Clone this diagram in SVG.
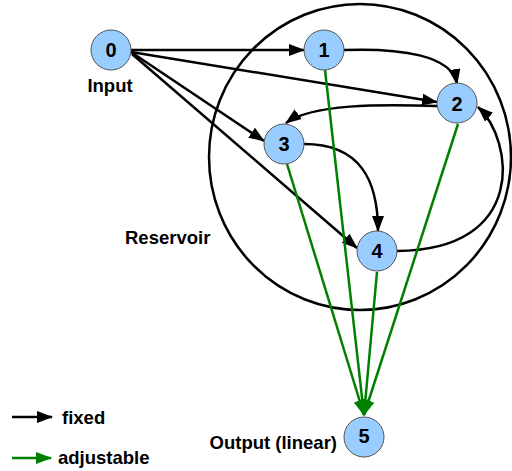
<svg xmlns="http://www.w3.org/2000/svg" width="512" height="471" viewBox="0 0 512 471">
<style>
.node circle{fill:#99ccff;stroke:#555;stroke-width:1}
.node text,.lbl{font-family:"Liberation Sans",Arial,sans-serif;font-weight:bold;fill:#000}
.node text{font-size:20px;text-anchor:middle}
.lbl{font-size:18.5px}
.fixed{fill:none;stroke:#000;stroke-width:2.5;marker-end:url(#ab)}
.adj{fill:none;stroke:#008000;stroke-width:2.5;marker-end:url(#ag)}
</style>
<defs>
<marker id="ab" markerUnits="userSpaceOnUse" markerWidth="17" markerHeight="13" refX="15" refY="6" orient="auto"><path d="M0,0 L16,6 L0,12 z" fill="#000"/></marker>
<marker id="ag" markerUnits="userSpaceOnUse" markerWidth="17" markerHeight="13" refX="15" refY="6" orient="auto"><path d="M0,0 L16,6 L0,12 z" fill="#008000"/></marker>
</defs>
<ellipse id="reservoir" cx="360" cy="157" rx="151" ry="153" fill="none" stroke="#000" stroke-width="2.5"/>
<text class="lbl" x="125" y="244">Reservoir</text>
<g id="connectors">
<path class="fixed" d="M131,50 L304,50"/>
<path class="fixed" d="M131,52 L437,102"/>
<path class="fixed" d="M131,52 L264,141"/>
<path class="fixed" d="M132,54 L357,248"/>
<path class="fixed" d="M344,50 C400,48 452,55 457,84"/>
<path class="fixed" d="M437,106 C380,104 312,104 286,123"/>
<path class="fixed" d="M304,144 C360,144 378,180 378,231"/>
<path class="fixed" d="M397,251 C528,250 514,140 478,107"/>
<path class="adj" d="M325,70 L364,415"/>
<path class="adj" d="M458,124 L364,415"/>
<path class="adj" d="M287,164 L364,415"/>
<path class="adj" d="M377,272 L364,415"/>
</g>
<g id="node0" class="node"><circle cx="111" cy="50" r="20"/><text x="111" y="57">0</text></g>
<text class="lbl" x="110" y="92" text-anchor="middle">Input</text>
<g id="node1" class="node"><circle cx="324" cy="50" r="20"/><text x="324" y="57">1</text></g>
<g id="node2" class="node"><circle cx="457" cy="103" r="20"/><text x="457" y="111">2</text></g>
<g id="node3" class="node"><circle cx="284" cy="144" r="20"/><text x="284" y="151">3</text></g>
<g id="node4" class="node"><circle cx="377" cy="251" r="20"/><text x="377" y="258">4</text></g>
<g id="node5" class="node"><circle cx="364" cy="437" r="20"/><text x="364" y="443">5</text></g>
<text class="lbl" x="337" y="449" text-anchor="end">Output (linear)</text>
<g id="legend">
<path class="fixed" d="M12,417 L52,417"/>
<text class="lbl" x="62" y="424">fixed</text>
<path class="adj" d="M12,458 L51,458"/>
<text class="lbl" x="58" y="464">adjustable</text>
</g>
</svg>
